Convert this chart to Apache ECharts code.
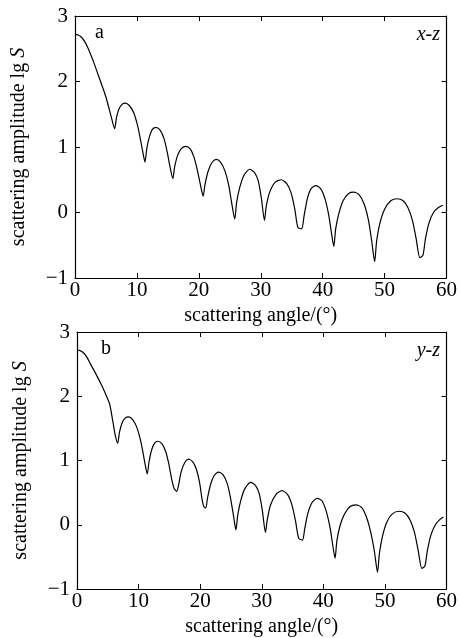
<!DOCTYPE html>
<html>
<head>
<meta charset="utf-8">
<script src="https://cdn.jsdelivr.net/npm/echarts@6/dist/echarts.min.js"></script>
<style>
html,body{margin:0;padding:0;background:#fff;}
#chart{width:460px;height:638px;}
</style>
</head>
<body>
<div id="chart"></div>
<script>
// x-z panel (a): [scattering angle (deg), lg S]
var seriesXZ = [
[0,2.72],[0.5,2.71],[1.0,2.68],[1.5,2.62],[2.0,2.53],[2.5,2.42],[3.0,2.30],[3.6,2.14],[4.2,1.98],[4.8,1.82],[5.3,1.66],[5.8,1.48],[6.4,1.28],
[6.7,1.45],[7.1,1.58],[7.6,1.65],[8.1,1.67],[8.8,1.63],[9.5,1.52],[10.1,1.33],[10.6,1.1],[11.0,0.9],[11.3,0.77],
[11.6,0.98],[12.0,1.15],[12.5,1.27],[13.1,1.30],[13.8,1.25],[14.4,1.12],[14.9,0.92],[15.3,0.72],[15.8,0.52],
[16.1,0.70],[16.6,0.88],[17.2,0.98],[17.9,1.01],[18.6,0.97],[19.2,0.85],[19.7,0.67],[20.2,0.45],[20.7,0.25],
[21.0,0.43],[21.5,0.63],[22.1,0.76],[22.8,0.81],[23.5,0.77],[24.2,0.64],[24.8,0.43],[25.3,0.15],[25.8,-0.10],
[26.1,0.15],[26.6,0.38],[27.3,0.57],[28.2,0.66],[29.0,0.61],[29.6,0.48],[30.1,0.22],[30.6,-0.12],
[30.9,0.10],[31.4,0.30],[32.3,0.46],[33.3,0.50],[34.2,0.44],[34.9,0.30],[35.5,0.05],[36.0,-0.23],[36.6,-0.25],
[37.0,-0.05],[37.5,0.20],[38.1,0.36],[38.9,0.41],[39.7,0.36],[40.4,0.20],[41.0,-0.05],[41.4,-0.30],[41.8,-0.52],
[42.1,-0.25],[42.6,-0.02],[43.3,0.18],[44.2,0.29],[45.0,0.31],[45.9,0.27],[46.7,0.13],[47.4,-0.12],[47.9,-0.42],[48.4,-0.75],
[48.7,-0.45],[49.2,-0.18],[50.0,0.05],[51.0,0.18],[52.0,0.21],[53.0,0.18],[53.8,0.07],[54.5,-0.12],[55.1,-0.40],[55.7,-0.69],[56.2,-0.65],
[56.6,-0.40],[57.2,-0.15],[57.9,0.00],[58.6,0.07],[59.4,0.11]
];
// y-z panel (b)
var seriesYZ = [
[0,2.72],[0.5,2.71],[1.0,2.68],[1.6,2.61],[2.2,2.5],[3.0,2.36],[4.0,2.17],[4.8,2.0],[5.3,1.88],[5.8,1.62],[6.2,1.40],[6.6,1.27],
[6.9,1.44],[7.3,1.58],[7.8,1.66],[8.4,1.68],[9.1,1.63],[9.7,1.52],[10.3,1.32],[10.8,1.08],[11.1,0.92],[11.4,0.79],
[11.7,0.98],[12.1,1.16],[12.6,1.27],[13.1,1.30],[13.8,1.26],[14.4,1.14],[14.9,0.95],[15.4,0.70],[15.8,0.56],[16.2,0.52],
[16.5,0.62],[16.9,0.82],[17.5,0.97],[18.1,1.02],[18.8,0.98],[19.4,0.86],[19.9,0.66],[20.3,0.40],[20.6,0.28],[20.9,0.26],
[21.2,0.42],[21.7,0.63],[22.3,0.77],[23.0,0.82],[23.7,0.78],[24.4,0.64],[24.9,0.43],[25.4,0.15],[25.8,-0.08],
[26.1,0.15],[26.6,0.38],[27.3,0.57],[28.2,0.66],[29.0,0.61],[29.6,0.48],[30.1,0.22],[30.6,-0.12],
[30.9,0.08],[31.4,0.30],[32.3,0.47],[33.3,0.53],[34.2,0.47],[34.9,0.31],[35.5,0.05],[36.0,-0.21],[36.6,-0.24],
[37.0,-0.05],[37.5,0.18],[38.2,0.35],[39.0,0.41],[39.8,0.37],[40.5,0.20],[41.1,-0.05],[41.5,-0.30],[41.9,-0.52],
[42.2,-0.25],[42.7,-0.02],[43.4,0.16],[44.3,0.28],[45.3,0.31],[46.2,0.27],[47.0,0.12],[47.7,-0.12],[48.3,-0.42],[48.8,-0.74],
[49.1,-0.45],[49.6,-0.18],[50.3,0.04],[51.2,0.17],[52.3,0.21],[53.3,0.18],[54.1,0.07],[54.8,-0.12],[55.4,-0.40],[56.0,-0.68],[56.5,-0.64],
[56.9,-0.40],[57.5,-0.15],[58.2,0.00],[58.9,0.08],[59.5,0.12]
];
var xTicks = [0,10,20,30,40,50,60];
var yTicks = [-1,0,1,2,3];
var xName = 'scattering angle/(°)';
var yName = 'scattering amplitude lg {i|S}';
var panelLabels = ['a','b'];
var panelPlanes = ['x-z','y-z'];

var FONT = '"Liberation Serif","Times New Roman",serif';
var chart = echarts.init(document.getElementById('chart'), null, {renderer:'canvas'});

var grids = [
  {left:75, right:8, top:16, height:262},
  {left:77, right:8, top:332, height:262}
];
function fmtY(v){ return v < 0 ? '\u2212' + Math.abs(v) : String(v); }
var xAxes = [], yAxes = [], series = [], graphics = [];
[seriesXZ, seriesYZ].forEach(function(data, i){
  xAxes.push({
    gridIndex:i, type:'value', min:xTicks[0], max:xTicks[xTicks.length-1], interval:10,
    position:'bottom',
    name:xName, nameLocation:'middle', nameGap:28,
    nameTextStyle:{fontFamily:FONT, fontSize:20, color:'#000'},
    axisLine:{onZero:false, lineStyle:{color:'#000', width:1.2}},
    axisTick:{inside:true, length:5, lineStyle:{color:'#000'}},
    axisLabel:{fontFamily:FONT, fontSize:21, color:'#000', margin:2},
    splitLine:{show:false}
  });
  xAxes.push({
    gridIndex:i, type:'value', min:xTicks[0], max:xTicks[xTicks.length-1], interval:10,
    position:'top',
    axisLine:{onZero:false, lineStyle:{color:'#000', width:1.2}},
    axisTick:{inside:true, length:5, lineStyle:{color:'#000'}},
    axisLabel:{show:false}, splitLine:{show:false}
  });
  yAxes.push({
    gridIndex:i, type:'value', min:yTicks[0], max:yTicks[yTicks.length-1], interval:1,
    position:'left',
    name:yName, nameLocation:'middle', nameGap:46, nameRotate:90,
    nameTextStyle:{fontFamily:FONT, fontSize:20, color:'#000',
      rich:{i:{fontFamily:FONT, fontSize:20, fontStyle:'italic', color:'#000'}}},
    axisLine:{onZero:false, lineStyle:{color:'#000', width:1.2}},
    axisTick:{inside:true, length:5, lineStyle:{color:'#000'}},
    axisLabel:{fontFamily:FONT, fontSize:21, color:'#000', margin:7, formatter:fmtY},
    splitLine:{show:false}
  });
  yAxes.push({
    gridIndex:i, type:'value', min:yTicks[0], max:yTicks[yTicks.length-1], interval:1,
    position:'right',
    axisLine:{onZero:false, lineStyle:{color:'#000', width:1.2}},
    axisTick:{inside:true, length:5, lineStyle:{color:'#000'}},
    axisLabel:{show:false}, splitLine:{show:false}
  });
  series.push({
    type:'line', xAxisIndex:2*i, yAxisIndex:2*i, data:data,
    showSymbol:false, smooth:0.25, lineStyle:{color:'#000', width:1.2},
    animation:false, silent:true
  });
  var g = grids[i];
  graphics.push({type:'text', left:g.left+20+(i?4:0), top:g.top+7,
    style:{text:panelLabels[i], font:'20px '+FONT, fill:'#000'}});
  graphics.push({type:'text', right:g.right+12, top:g.top+9,
    style:{text:panelPlanes[i], font:'italic 20px '+FONT, fill:'#000'}});
});

chart.setOption({
  backgroundColor:'#fff',
  animation:false,
  grid:grids,
  xAxis:xAxes,
  yAxis:yAxes,
  series:series,
  graphic:graphics
});
</script>
</body>
</html>
